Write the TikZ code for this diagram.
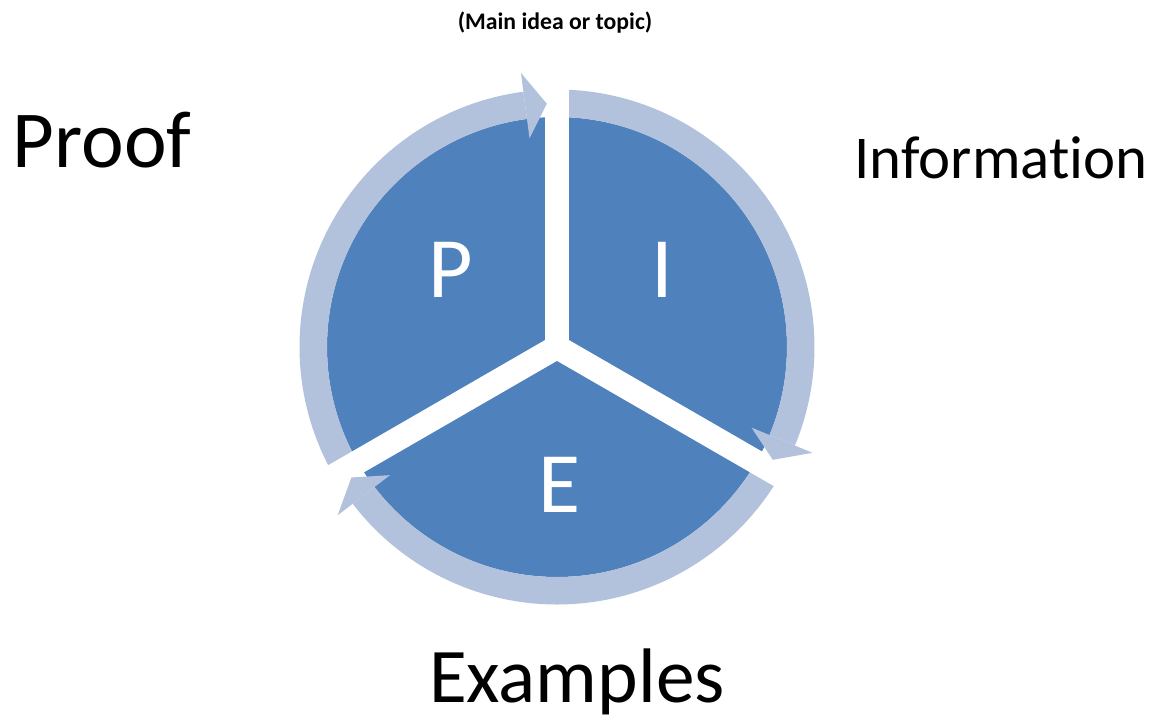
\documentclass[tikz,border=0pt]{standalone}
\usepackage{fontspec}
\setmainfont{Carlito}[Ligatures=NoCommon]
\definecolor{pieblue}{RGB}{79,129,189}
\definecolor{ringblue}{RGB}{178,193,220}
\tikzset{
  piegap/.style={white, line width=0.48cm},
  word/.style={inner sep=0pt, anchor=base},
  letter/.style={word, text=white, font=\fontsize{49}{49}\selectfont}
}
\begin{document}
\begin{tikzpicture}
    \def\rin{4.6}
    \def\rout{5.15}
    \def\rmid{4.87}
    \useasboundingbox (0,0) rectangle (23.2,-14.48);
    \coordinate (C) at (11.14,-6.94);
    \fill[pieblue] (C) circle (\rin);
    \foreach \a/\b in {210/97.5, 90/-22.5, 330/217.5}
      \fill[ringblue] ([shift={(C)}]\a:\rout) arc[start angle=\a, end angle=\b, radius=\rout]
        -- ([shift={(C)}]\b:\rin) arc[start angle=\b, end angle=\a, radius=\rin] -- cycle;
    \foreach \a in {90,210,330}
      \draw[piegap] (C) -- ([shift={(C)}]\a:5.4);
    \fill[white] (C) circle (0.24);
    \foreach \b/\t in {97.5/92.4, -22.5/-27.6, 217.5/212.4}
      \fill[ringblue] ([shift={(C)}]\b:5.53) -- ([shift={(C)}]\t:\rmid) -- ([shift={(C)}]\b:4.21) -- cycle;
    \node[word, font=\fontsize{13.5}{13.5}\selectfont\bfseries] (A0_1) at (11.10,-0.58) {(Main idea or topic)};
    \node[word, font=\fontsize{46}{46}\selectfont] (A1_0) at (2.04,-3.34) {Proof};
    \node[word, font=\fontsize{34.6}{34.6}\selectfont] (A1_2) at (20.02,-3.56) {Information};
    \node[word, font=\fontsize{44}{44}\selectfont] (A3_1) at (11.54,-14.04) {Examples};
    \node[letter] (A2_0) at (9.02,-5.94) {P};
    \node[letter] (A2_2) at (13.24,-5.94) {I};
    \node[letter] (A2_1) at (11.20,-10.24) {E};
  \end{tikzpicture}
\end{document}
